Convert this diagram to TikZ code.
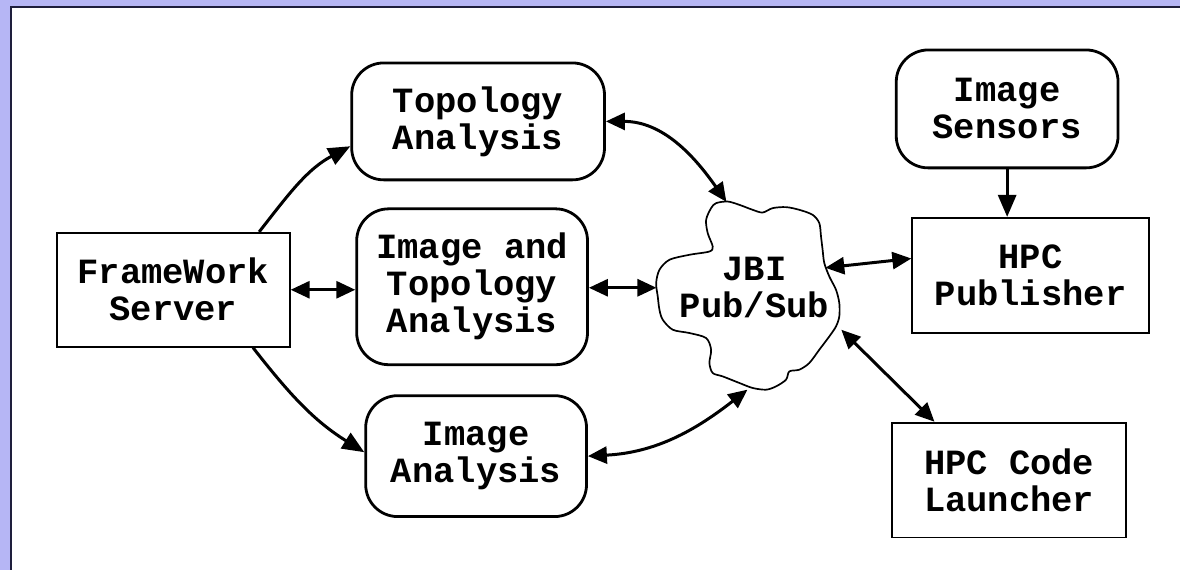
\documentclass[tikz,border=0pt]{standalone}
\usepackage{fontspec}
\setmonofont{Liberation Mono}
\usetikzlibrary{arrows.meta}
\definecolor{lav}{RGB}{182,182,245}
\definecolor{frameline}{RGB}{30,30,60}
\begin{document}
\begin{tikzpicture}[x=1pt,y=-1pt,
  lbl/.style={font=\ttfamily\bfseries\fontsize{35.5}{37}\selectfont, align=center},
  rbox/.style={lbl, draw, line width=2.8pt, rounded corners=32pt, inner sep=0pt},
  sbox/.style={lbl, draw, line width=1.8pt, inner sep=0pt},
  conn/.style={line width=3pt, -{Triangle[length=22pt,width=18pt]}},
  dconn/.style={line width=3pt, {Triangle[length=19pt,width=17pt]}-{Triangle[length=19pt,width=17pt]}}
]
\fill[lav] (0,0) rectangle (1181,570);
\fill[white] (11,7) rectangle (1181,570);
\draw[frameline, line width=2pt] (11,570) -- (11,7) -- (1181,7);
\useasboundingbox (0,0) rectangle (1181,570);

% nodes
\node[sbox, minimum width=233pt, minimum height=114pt] (fw) at (173.5,290) {FrameWork\\Server};
\node[rbox, minimum width=253pt, minimum height=117pt] (topo) at (478.5,121.5) {Topology\\Analysis};
\node[rbox, minimum width=231pt, minimum height=156pt] (imtopo) at (472.5,287) {Image and\\Topology\\Analysis};
\node[rbox, minimum width=221pt, minimum height=121pt] (imana) at (476.5,456.5) {Image\\Analysis};
\node[rbox, minimum width=222pt, minimum height=118pt] (sens) at (1008,109) {Image\\Sensors};
\node[sbox, minimum width=237pt, minimum height=115pt] (pub) at (1031.5,275.5) {HPC\\Publisher};
\node[sbox, minimum width=234pt, minimum height=115pt] (launch) at (1010,480.5) {HPC Code\\Launcher};

% cloud
\draw[line width=1.7pt] plot[smooth cycle, tension=0.5] coordinates {
(716.7,203.3) (728.3,201.7) (740,205) (753.3,210) (763.3,212.7) (773.3,208.3)
(786.7,207.3) (800,210) (813.3,215) (820,223.3) (821.7,236.7) (823.3,250)
(825,263.3) (830,276.7) (836.7,290) (840,303.3) (840,316.7) (836.7,326.7)
(830,336.7) (820,350) (810,363.3) (800,370) (790,371.7) (786.7,380)
(776.7,386.7) (766.7,390) (753.3,388.3) (740,383.3) (723.3,376.7) (713.3,373.3)
(710,363.3) (711.7,350) (706.7,338.3) (690,333.3) (673.3,330) (663.3,320)
(660,310) (658.3,296.7) (656.7,283.3) (660,270) (670,260) (690,255)
(710,251.7) (713.3,246.7) (708.3,233.3) (706.7,220) (711.7,208.3)};
\node[lbl] (jbi) at (755,288) {JBI\\Pub/Sub};
\coordinate (cT) at (727,202);
\coordinate (cL) at (657,288);
\coordinate (cR) at (826,268);
\coordinate (cBR) at (842,330);
\coordinate (cBL) at (748,390);

% connectors
\draw[conn] (fw.34) to[out=52,in=208] (topo.191);
\draw[conn] (fw.-36) to[out=-52,in=148] (imana.178);
\draw[dconn] (fw.east) -- (fw.east -| imtopo.west);
\draw[dconn] (imtopo.east |- cL) -- (cL);
\draw[dconn] (topo.east) to[out=0,in=125] (cT);
\draw[dconn] (imana.east) to[out=3,in=-142] (cBL);
\draw[dconn] (cR) -- (pub.172);
\draw[dconn] (cBR) -- (launch.142);
\draw[conn] (sens.south) -- (sens.south |- pub.north);
\end{tikzpicture}
\end{document}
